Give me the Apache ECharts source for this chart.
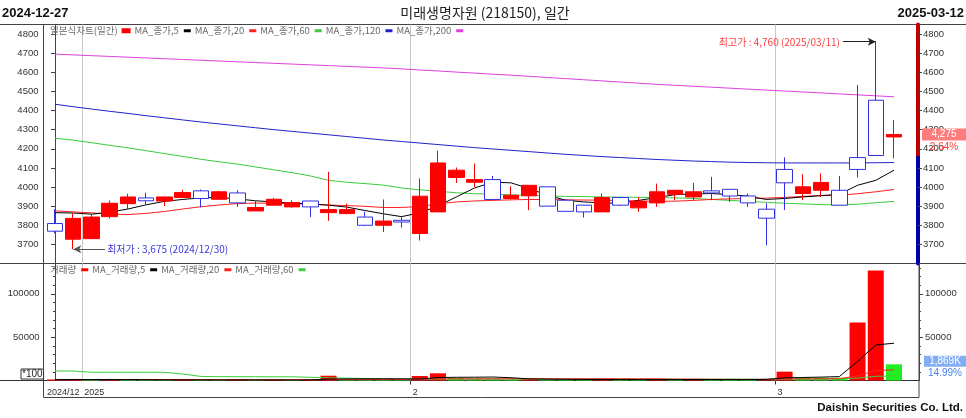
<!DOCTYPE html>
<html>
<head>
<meta charset="utf-8">
<script src="https://cdn.jsdelivr.net/npm/echarts@6/dist/echarts.min.js"></script>
<style>html,body{margin:0;padding:0;background:#fff}#c{width:966px;height:418px}</style>
</head>
<body>
<div id="c"></div>
<script>
// ---------------- data ----------------
const dates = ['12/27','12/30','01/02','01/03','01/06','01/07','01/08','01/09','01/10','01/13','01/14','01/15','01/16','01/17','01/20','01/21','01/22','01/23','01/24','01/31','02/03','02/04','02/05','02/06','02/07','02/10','02/11','02/12','02/13','02/14','02/17','02/18','02/19','02/20','02/21','02/24','02/25','02/26','02/27','02/28','03/04','03/05','03/06','03/07','03/10','03/11','03/12'];
const openP  = [3809,3727,3730,3845,3913,3943,3927,3945,3980,3936,3969,3875,3905,3896,3927,3866,3861,3843,3800,3826,3757,3870,4050,4025,4039,3940,3954,4001,3931,3905,3870,3945,3891,3917,3962,3948,3980,3988,3953,3884,4092,3966,3983,3983,4154,4454,4262];
const closeP = [3769,3836,3843,3915,3948,3928,3948,3971,3940,3975,3917,3893,3936,3919,3896,3882,3882,3800,3822,3817,3952,4126,4088,4039,3935,3957,4009,3900,3873,3870,3945,3905,3925,3975,3983,3975,3969,3953,3917,3837,4022,4001,4024,3905,4092,4165,4275];
const lowP   = [3758,3675,3730,3835,3885,3910,3900,3945,3893,3936,3896,3875,3905,3893,3843,3823,3858,3795,3765,3788,3720,3870,4021,4000,3935,3935,3879,3900,3873,3840,3870,3900,3870,3896,3931,3931,3931,3922,3896,3695,3880,3931,3948,3905,4050,4165,4150];
const highP  = [3884,3863,3860,3930,3965,3970,3950,3985,3987,3980,3983,3927,3943,3931,3927,4080,3913,3870,3935,3848,4045,4190,4102,4123,4058,4004,4010,4001,3931,3905,3966,3945,3948,4018,3983,4022,4053,3988,3966,3915,4155,4067,4071,4057,4533,4760,4350];

const ma5   = [3866,3864,3858,3868,3885,3907,3925,3935,3943,3945,3938,3928,3922,3916,3912,3905,3895,3877,3860,3845,3865,3901,3948,3995,4025,4022,3992,3957,3931,3922,3917,3915,3930,3945,3960,3964,3966,3960,3952,3935,3940,3948,3955,3962,4009,4035,4088];
const ma20  = [3875,3870,3865,3858,3856,3862,3872,3885,3897,3906,3913,3916,3915,3913,3910,3906,3903,3899,3893,3893,3898,3912,3922,3927,3930,3933,3935,3934,3933,3932,3931,3929,3927,3925,3926,3930,3935,3938,3940,3942,3946,3951,3955,3957,3965,3975,3987];
const ma60  = [4255,4245,4232,4218,4205,4190,4175,4160,4145,4132,4120,4105,4090,4075,4058,4035,4025,4018,4010,3995,3985,3978,3970,3965,3962,3959,3956,3953,3951,3950,3948,3947,3946,3945,3943,3940,3935,3930,3925,3920,3915,3912,3908,3906,3910,3918,3925];
const ma120 = [4433,4420,4408,4396,4385,4373,4362,4351,4340,4330,4320,4310,4300,4291,4282,4273,4264,4255,4246,4238,4230,4222,4214,4206,4199,4192,4185,4178,4171,4165,4159,4154,4149,4144,4140,4136,4133,4130,4128,4127,4126,4126,4126,4126,4126,4127,4128];
const ma200 = [4695,4691,4687,4683,4679,4675,4671,4667,4663,4659,4655,4651,4647,4643,4639,4635,4631,4627,4623,4618,4612,4607,4601,4596,4590,4585,4579,4573,4567,4561,4555,4549,4543,4537,4532,4527,4522,4517,4512,4507,4502,4497,4492,4487,4482,4477,4472];

const volume  = [1200,1500,900,1100,800,700,600,900,700,600,800,500,700,600,900,5500,1500,1000,900,700,5200,8300,2800,2000,1800,1200,1500,1300,1100,900,1300,1000,900,1200,1000,1400,1300,1100,1000,1600,10200,3400,3300,3200,67000,127000,18690];
const volMa5  = [1100,1200,1150,1100,1100,1000,820,820,740,700,720,680,640,640,700,1640,1840,1900,1960,1920,1760,3340,3700,3800,4020,3220,1860,1560,1380,1200,1220,1120,1040,1080,1080,1100,1160,1200,1160,1280,3040,3480,3900,4500,22000,41000,43000];
const volMa20 = [1100,1100,1100,1100,1100,1050,1050,1000,1000,1000,1000,1000,950,950,950,1150,1200,1200,1200,1200,1400,1750,1850,1900,1950,1950,2000,2000,2000,2000,2000,2000,1950,1950,1600,1600,1400,1350,1300,1300,1750,1850,1950,2050,5300,11500,12300];
const volMa60 = [11000,10900,9500,9500,9500,9500,9450,7500,4700,4400,4400,4350,4300,4300,3700,3200,2700,2300,1900,1600,1600,1650,1700,1700,1700,1650,1650,1600,1600,1550,1500,1500,1500,1450,1450,1400,1400,1400,1400,1400,1550,1600,1650,1700,2800,4900,5200];

const priceTicks = [3700,3800,3900,4000,4100,4200,4300,4400,4500,4600,4700,4800];
const volTicks = [50000,100000];
const monthBreaks = [1.5, 19.5, 39.5];
const monthLabelPos = [-0.55, 1.5, 19.5, 39.5];
const monthLabels = ['2024/12', '2025', '2', '3'];

const startDate = '2024-12-27', endDate = '2025-03-12';
const chartTitle = '미래생명자원 (218150), 일간';
const lastClose = 4275, prevClose = 4165, lastCloseText = '4,275', lastChangeText = '2.64%';
const lastVolume = 18690, lastVolumeText = '1,869K', lastVolumeRatio = '14.99%';
const lowMark = {idx: 1, price: 3675, text: '최저가 : 3,675 (2024/12/30)'};
const highMark = {idx: 45, price: 4760, text: '최고가 : 4,760 (2025/03/11)'};

// ---------------- styles ----------------
const RED = '#ff0000', BLUE_C = '#3030e0', VGREEN = '#22ee22';
const C_MA5 = '#000000', C_MA20 = '#ff2020', C_MA60 = '#3ccc3c', C_MA120 = '#2222cc', C_MA200 = '#e040e0';
const FN = "'Liberation Sans', Arial, sans-serif";
const FK = "'Noto Sans CJK KR', sans-serif";
const AX = '#444';
const CLEAR = 'rgba(0,0,0,0)';
const xMin = -0.63, xMax = 47.37;
const pMin = 3600, pMax = 4850, vMax = 135000;
const plain = v => String(v);

const chart = echarts.init(document.getElementById('c'), null, {renderer: 'canvas'});

const candleData = dates.map((d, i) => [i, openP[i], closeP[i], lowP[i], highP[i]]);
const toXY = arr => arr.map((v, i) => [i, v]);
const volData = volume.map((v, i) => ({
  value: [i, v],
  itemStyle: {color: (i === 0 || v > volume[i - 1]) ? RED : VGREEN}
}));

const monthLineMark = {
  silent: true, z: 1, symbol: ['none', 'none'], animation: false,
  label: {show: false},
  lineStyle: {color: '#c8c8c8', width: 1, type: 'solid'},
  data: monthBreaks.map(v => ({xAxis: v}))
};

function maSeries(name, data, color, xi, yi, extra) {
  return Object.assign({
    name, type: 'line', xAxisIndex: xi, yAxisIndex: yi, data: toXY(data),
    symbol: 'none', color, itemStyle: {color}, lineStyle: {color, width: 1},
    silent: true, animation: false, z: 2
  }, extra || {});
}

const splitF = (pMax - prevClose) / (pMax - pMin);
const axLabel = (margin, vals) => ({customValues: vals, margin, fontSize: 9.5, fontFamily: FN, color: '#333', formatter: plain});

const option = {
  animation: false,
  backgroundColor: '#fff',
  grid: [
    {left: 43.5, top: 24.5, width: 875.5, height: 239, show: true, borderColor: AX, borderWidth: 1, backgroundColor: 'transparent'},
    {left: 43.5, top: 263.5, width: 875.5, height: 117, show: false}
  ],
  legend: [
    {
      left: 50, top: 26, padding: 0, align: 'right', icon: 'rect', itemWidth: 7, itemHeight: 3, itemGap: 4,
      selectedMode: false, textStyle: {fontSize: 9.5, color: '#6a6a6a', fontFamily: FK},
      data: ['일본식차트(일간)', 'MA_종가,5', 'MA_종가,20', 'MA_종가,60', 'MA_종가,120', 'MA_종가,200']
    },
    {
      left: 50, top: 265, padding: 0, align: 'right', icon: 'rect', itemWidth: 7, itemHeight: 3, itemGap: 4,
      selectedMode: false, textStyle: {fontSize: 9.5, color: '#6a6a6a', fontFamily: FK},
      data: ['거래량', 'MA_거래량,5', 'MA_거래량,20', 'MA_거래량,60']
    }
  ],
  xAxis: [
    {type: 'value', gridIndex: 0, min: xMin, max: xMax, show: false},
    {
      type: 'value', gridIndex: 1, min: xMin, max: xMax, position: 'bottom',
      axisLine: {show: true, onZero: false, lineStyle: {color: '#333', width: 1}},
      axisTick: {show: true, customValues: monthBreaks.slice(1), length: 4, lineStyle: {color: '#333'}},
      axisLabel: {
        customValues: monthLabelPos, align: 'left', margin: 8, padding: [0, 0, 0, 2],
        showMinLabel: true, showMaxLabel: true, hideOverlap: false,
        fontSize: 9, fontFamily: FN, color: '#333',
        formatter: v => monthLabels[monthLabelPos.indexOf(v)] || ''
      },
      splitLine: {show: false}
    }
  ],
  yAxis: [
    {
      type: 'value', gridIndex: 0, position: 'left', min: pMin, max: pMax,
      axisLine: {show: true, lineStyle: {color: AX}},
      axisTick: {show: true, customValues: priceTicks, length: 4, lineStyle: {color: AX}},
      axisLabel: axLabel(5, priceTicks),
      splitLine: {show: false}
    },
    {
      type: 'value', gridIndex: 0, position: 'right', min: pMin, max: pMax, offset: -1,
      axisLine: {show: true, lineStyle: {width: 4, color: new echarts.graphic.LinearGradient(0, 0, 0, 1, [
        {offset: 0, color: '#c00000'}, {offset: splitF, color: '#c00000'},
        {offset: splitF, color: '#0000b0'}, {offset: 1, color: '#0000b0'}])}},
      axisTick: {show: true, customValues: priceTicks, length: 4, lineStyle: {color: AX}},
      axisLabel: axLabel(5, priceTicks),
      splitLine: {show: false}
    },
    {
      type: 'value', gridIndex: 1, position: 'left', min: 0, max: vMax, interval: 50000,
      axisLine: {show: true, lineStyle: {color: AX}},
      axisTick: {show: true, customValues: volTicks, length: 4, lineStyle: {color: AX}},
      minorTick: {show: true, splitNumber: 5, length: 2, lineStyle: {color: AX}},
      axisLabel: axLabel(4, volTicks),
      splitLine: {show: false}
    },
    {
      type: 'value', gridIndex: 1, position: 'right', min: 0, max: vMax, interval: 50000,
      axisLine: {show: true, lineStyle: {color: AX}},
      axisTick: {show: true, customValues: volTicks, length: 4, lineStyle: {color: AX}},
      minorTick: {show: true, splitNumber: 5, length: 2, lineStyle: {color: AX}},
      axisLabel: axLabel(6, volTicks),
      splitLine: {show: false}
    }
  ],
  series: [
    maSeries('MA_종가,200', ma200, C_MA200, 0, 0, {markLine: monthLineMark}),
    maSeries('MA_종가,120', ma120, C_MA120, 0, 0),
    maSeries('MA_종가,60', ma60, C_MA60, 0, 0),
    maSeries('MA_종가,20', ma20, C_MA20, 0, 0),
    maSeries('MA_종가,5', ma5, C_MA5, 0, 0),
    {
      name: '일본식차트(일간)', type: 'candlestick', xAxisIndex: 0, yAxisIndex: 0,
      data: candleData, barWidth: 16, z: 3, silent: true, clip: false,
      itemStyle: {color: RED, borderColor: RED, color0: '#ffffff', borderColor0: BLUE_C, borderWidth: 1},
      markLine: {
        silent: true, animation: false, symbol: ['none', 'none'], z: 6,
        data: [
          {
            yAxis: lastClose, lineStyle: {color: CLEAR, width: 1},
            label: {
              show: true, position: 'end', distance: 3, padding: [13, 0, 0, 0],
              formatter: '{a|' + lastCloseText + '}\n{b|' + lastChangeText + '}',
              rich: {
                a: {width: 44, align: 'center', lineHeight: 12, height: 12, backgroundColor: '#ff7c7c', color: '#fff', fontSize: 10, fontFamily: FN},
                b: {width: 44, align: 'center', lineHeight: 13, color: '#ff3a3a', fontSize: 10, fontFamily: FN}
              }
            }
          },
          [
            {coord: [lowMark.idx, lowMark.price], symbol: 'arrow', symbolSize: [6, 8],
             lineStyle: {color: '#555', width: 1, type: 'solid', opacity: 1}},
            {coord: [lowMark.idx + 1.75, lowMark.price], symbol: 'none',
             label: {show: true, position: 'end', distance: 2, formatter: lowMark.text, color: '#3a3ad8', fontSize: 10, fontFamily: FK}}
          ],
          [
            {coord: [highMark.idx - 1.8, highMark.price], symbol: 'none',
             lineStyle: {color: '#222', width: 1, type: 'solid', opacity: 1}},
            {coord: [highMark.idx, highMark.price], symbol: 'arrow', symbolSize: [6, 8],
             label: {show: true, position: 'start', distance: 3, formatter: highMark.text, color: '#ff4040', fontSize: 10, fontFamily: FK}}
          ]
        ]
      }
    },
    {
      name: '거래량', type: 'bar', xAxisIndex: 1, yAxisIndex: 2, data: volData, barWidth: 16,
      color: RED, itemStyle: {color: RED}, silent: true, z: 2,
      markLine: {
        silent: true, animation: false, symbol: ['none', 'none'], z: 6,
        data: [{
          yAxis: lastVolume, lineStyle: {color: CLEAR, width: 1},
          label: {
            show: true, position: 'end', distance: 5, padding: [7, 0, 0, 0],
            formatter: '{a|' + lastVolumeText + '}\n{b|' + lastVolumeRatio + '}',
            rich: {
              a: {width: 42, align: 'center', lineHeight: 11, height: 11, backgroundColor: '#82aef5', color: '#fff', fontSize: 10, fontFamily: FN},
              b: {width: 42, align: 'center', lineHeight: 13, color: '#4a7ef0', fontSize: 10, fontFamily: FN}
            }
          }
        }]
      }
    },
    maSeries('MA_거래량,60', volMa60, C_MA60, 1, 2, {markLine: monthLineMark, z: 3}),
    maSeries('MA_거래량,20', volMa20, C_MA20, 1, 2, {z: 3}),
    maSeries('MA_거래량,5', volMa5, C_MA5, 1, 2, {z: 3})
  ],
  graphic: [
    {type: 'text', x: 2, y: 13, silent: true, style: {text: startDate, font: 'bold 13px "Liberation Sans", sans-serif', fill: '#111', verticalAlign: 'middle'}},
    {type: 'text', x: 485, y: 13, silent: true, style: {text: chartTitle, font: '14px ' + FK, fill: '#222', align: 'center', verticalAlign: 'middle'}},
    {type: 'text', x: 964, y: 13, silent: true, style: {text: endDate, font: 'bold 13px "Liberation Sans", sans-serif', fill: '#111', align: 'right', verticalAlign: 'middle'}},
    {type: 'line', silent: true, shape: {x1: 0, y1: 24.5, x2: 966, y2: 24.5}, style: {stroke: AX, lineWidth: 1}},
    {type: 'line', silent: true, shape: {x1: 0, y1: 263.5, x2: 966, y2: 263.5}, style: {stroke: AX, lineWidth: 1}},
    {type: 'line', silent: true, shape: {x1: 0, y1: 380.5, x2: 43.5, y2: 380.5}, style: {stroke: '#333', lineWidth: 1}},
    {type: 'rect', silent: true, shape: {x: 43.5, y: 263.5, width: 875.5, height: 134}, style: {stroke: AX, fill: null, lineWidth: 1}},
    {type: 'text', x: 21, y: 369, silent: true, style: {text: '*100', font: '10px ' + FN, fill: '#222', borderColor: '#333', borderWidth: 1, padding: [0, 1, 0, 1]}},
    {type: 'text', x: 963, y: 408, silent: true, style: {text: 'Daishin Securities Co. Ltd.', font: 'bold 11.5px "Liberation Sans", sans-serif', fill: '#111', align: 'right', verticalAlign: 'middle'}}
  ]
};

chart.setOption(option);
</script>
</body>
</html>
